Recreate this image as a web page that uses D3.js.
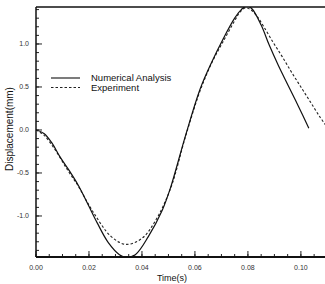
<!DOCTYPE html>
<html>
<head>
<meta charset="utf-8">
<script src="https://cdn.jsdelivr.net/npm/d3@7"></script>
<style>
  body { margin: 0; background: #fff; }
  svg { display: block; }
</style>
</head>
<body>
<script>
// numerical analysis (solid)
const numT = [0, 0.003, 0.006, 0.009, 0.0125, 0.0159, 0.0197, 0.0231, 0.0273, 0.0315, 0.034, 0.0375, 0.0424, 0.0477, 0.0508, 0.0565, 0.062, 0.0665, 0.0705, 0.075, 0.0775, 0.0795, 0.0815, 0.085, 0.088, 0.0915, 0.095, 0.099, 0.103];
const numV = [0, -0.04, -0.15, -0.31, -0.47, -0.64, -0.87, -1.08, -1.31, -1.45, -1.48, -1.45, -1.24, -0.93, -0.67, -0.06, 0.48, 0.8, 1.05, 1.3, 1.4, 1.44, 1.41, 1.22, 0.99, 0.75, 0.53, 0.28, 0.02];
// experiment (dashed)
const expT = [0, 0.003, 0.0072, 0.012, 0.0159, 0.0215, 0.0284, 0.034, 0.04, 0.045, 0.0508, 0.0565, 0.062, 0.0665, 0.0705, 0.075, 0.077, 0.079, 0.081, 0.0835, 0.086, 0.0895, 0.093, 0.0965, 0.1, 0.1035, 0.107, 0.1095];
const expV = [0, -0.06, -0.23, -0.47, -0.65, -0.95, -1.24, -1.33, -1.26, -1.06, -0.68, -0.07, 0.46, 0.79, 1.02, 1.27, 1.37, 1.42, 1.4, 1.32, 1.2, 1.02, 0.85, 0.67, 0.5, 0.33, 0.16, 0.05];

const xTicks = [0, 0.02, 0.04, 0.06, 0.08, 0.10];
const xLabels = ["0.00", "0.02", "0.04", "0.06", "0.08", "0.10"];
const yTicks = [-1.0, -0.5, 0.0, 0.5, 1.0];
const yLabels = ["-1.0", "-0.5", "0.0", "0.5", "1.0"];

const width = 325, height = 284;
const mLeft = 36, mRight = 325, mTop = 7, mBottom = 257;

const svg = d3.select("body").append("svg")
    .attr("width", width)
    .attr("height", height);

const x = d3.scaleLinear().domain([0, 0.1091]).range([mLeft, mRight]);
const y = d3.scaleLinear().domain([-1.477, 1.43]).range([mBottom, mTop]);

svg.append("clipPath").attr("id", "clip")
  .append("rect").attr("x", mLeft).attr("y", mTop).attr("width", mRight - mLeft).attr("height", mBottom - mTop);

const line = d3.line().x(d => x(d[0])).y(d => y(d[1])).curve(d3.curveCatmullRom.alpha(0.5));

svg.append("path")
    .datum(d3.zip(expT, expV))
    .attr("clip-path", "url(#clip)")
    .attr("fill", "none")
    .attr("stroke", "#222")
    .attr("stroke-width", 1.1)
    .attr("stroke-dasharray", "2.5,2")
    .attr("d", line);

svg.append("path")
    .datum(d3.zip(numT, numV))
    .attr("clip-path", "url(#clip)")
    .attr("fill", "none")
    .attr("stroke", "#111")
    .attr("stroke-width", 1.2)
    .attr("d", line);

// axes (ticks point inward)
const xMinor = d3.range(0, 0.1091, 0.005);
svg.append("g").selectAll("line").data(xMinor).join("line")
    .attr("x1", d => x(d)).attr("x2", d => x(d))
    .attr("y1", mBottom).attr("y2", mBottom - 3)
    .attr("stroke", "#222");
svg.append("g").selectAll("line").data(xTicks).join("line")
    .attr("x1", d => x(d)).attr("x2", d => x(d))
    .attr("y1", mBottom).attr("y2", mBottom - 6)
    .attr("stroke", "#222");

const yMinor = d3.range(-1.4, 1.45, 0.1);
svg.append("g").selectAll("line").data(yMinor).join("line")
    .attr("x1", mLeft).attr("x2", mLeft + 3)
    .attr("y1", d => y(d)).attr("y2", d => y(d))
    .attr("stroke", "#222");
svg.append("g").selectAll("line").data(yTicks).join("line")
    .attr("x1", mLeft).attr("x2", mLeft + 6)
    .attr("y1", d => y(d)).attr("y2", d => y(d))
    .attr("stroke", "#222");

svg.append("line").attr("x1", mLeft).attr("x2", mRight).attr("y1", mBottom).attr("y2", mBottom)
    .attr("stroke", "#111").attr("stroke-width", 2);
svg.append("line").attr("x1", mLeft).attr("x2", mLeft).attr("y1", mTop).attr("y2", mBottom)
    .attr("stroke", "#111").attr("stroke-width", 1.5);
svg.append("line").attr("x1", mLeft).attr("x2", mRight).attr("y1", mTop).attr("y2", mTop)
    .attr("stroke", "#111").attr("stroke-width", 1.5);

// tick labels
svg.append("g")
    .attr("font-family", "Liberation Sans, Arial, sans-serif")
    .attr("font-size", 7)
    .attr("fill", "#333")
    .attr("text-anchor", "middle")
    .selectAll("text").data(xTicks).join("text")
    .attr("x", d => x(d)).attr("y", 270)
    .text((d, i) => xLabels[i]);

svg.append("g")
    .attr("font-family", "Liberation Sans, Arial, sans-serif")
    .attr("font-size", 7)
    .attr("fill", "#333")
    .attr("text-anchor", "end")
    .selectAll("text").data(yTicks).join("text")
    .attr("x", 29).attr("y", d => y(d) + 2.5)
    .text((d, i) => yLabels[i]);

// axis titles
svg.append("text")
    .attr("transform", `translate(13,${(mTop + mBottom) / 2 - 3}) rotate(-90)`)
    .attr("text-anchor", "middle")
    .attr("font-family", "Liberation Sans, Arial, sans-serif")
    .attr("font-size", 10)
    .attr("fill", "#111")
    .text("Displacement(mm)");

svg.append("text")
    .attr("x", 172).attr("y", 281)
    .attr("text-anchor", "middle")
    .attr("font-family", "Liberation Sans, Arial, sans-serif")
    .attr("font-size", 9)
    .attr("fill", "#111")
    .text("Time(s)");

// legend
const legend = svg.append("g")
    .attr("font-family", "Liberation Sans, Arial, sans-serif")
    .attr("font-size", 9.5)
    .attr("fill", "#111");
legend.append("line").attr("x1", 51).attr("x2", 80).attr("y1", 78).attr("y2", 78)
    .attr("stroke", "#111").attr("stroke-width", 1.1);
legend.append("line").attr("x1", 51).attr("x2", 80).attr("y1", 87.5).attr("y2", 87.5)
    .attr("stroke", "#222").attr("stroke-width", 1.1).attr("stroke-dasharray", "2.5,2");
legend.append("text").attr("x", 91).attr("y", 81).text("Numerical Analysis");
legend.append("text").attr("x", 91).attr("y", 91).text("Experiment");
</script>
</body>
</html>
